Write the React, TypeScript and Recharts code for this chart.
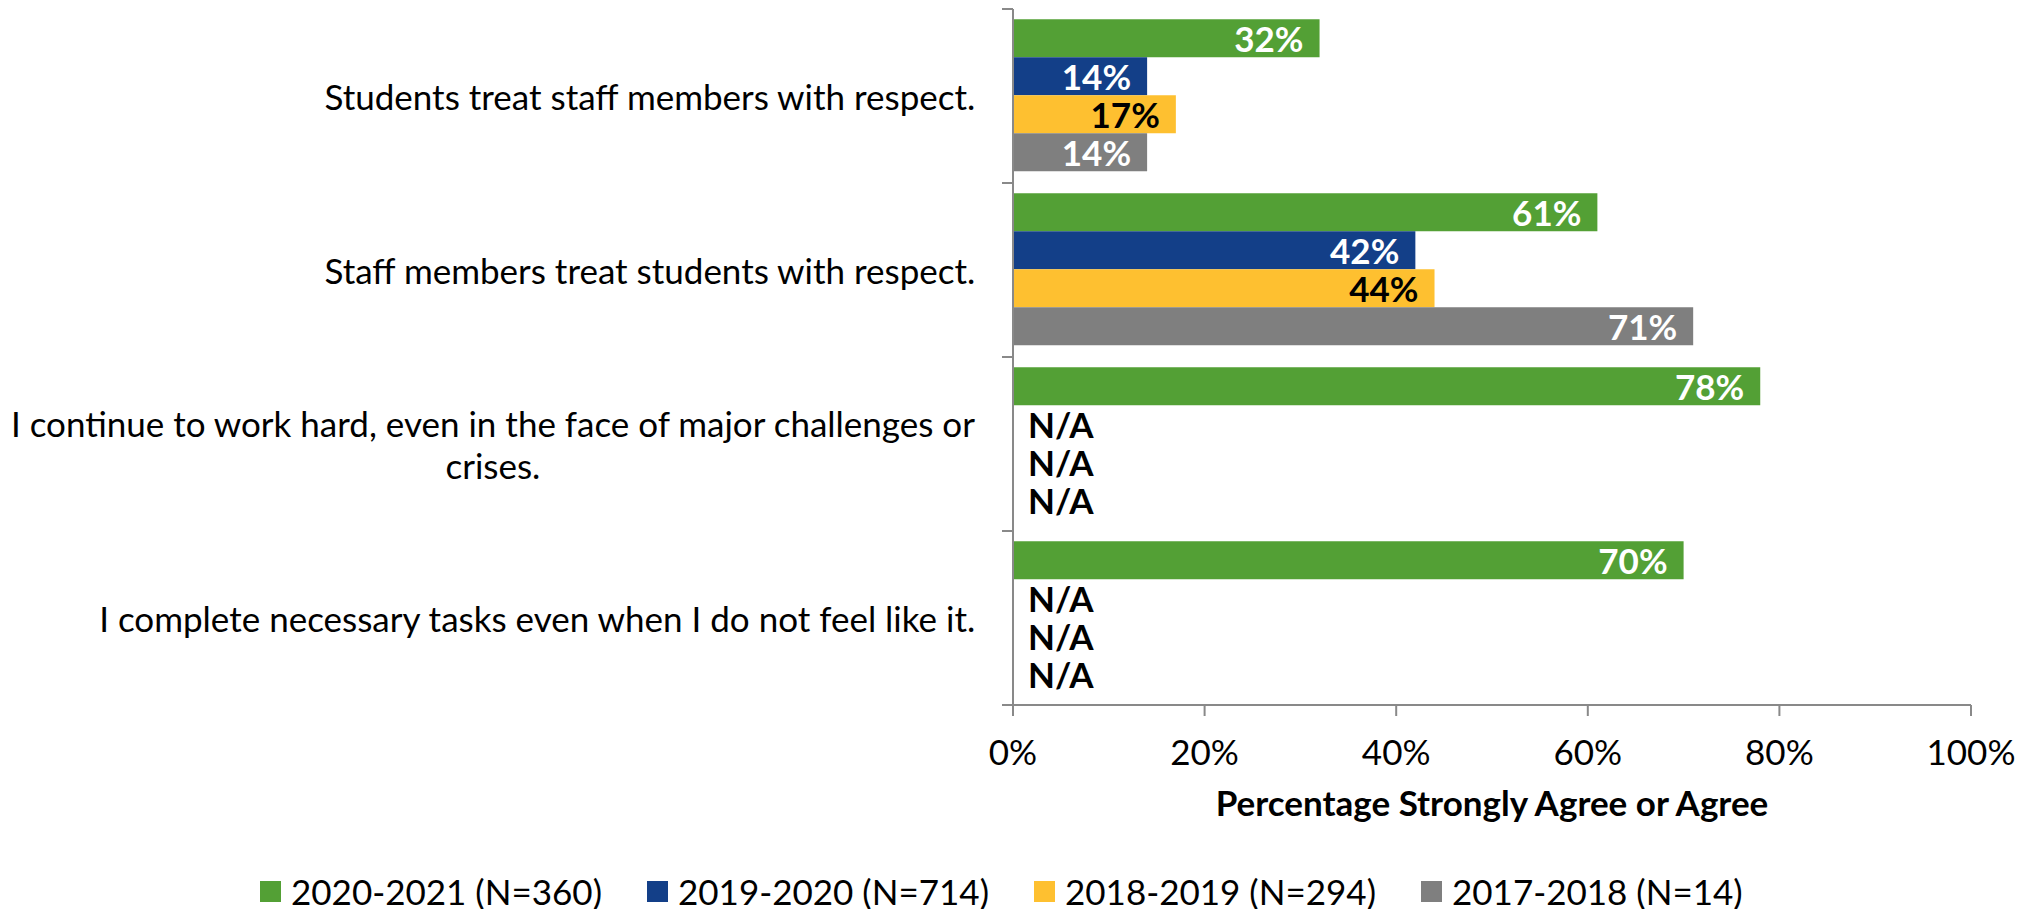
import React from 'react';
import { BarChart, Bar, XAxis, YAxis, Legend, LabelList, Label, Cell } from 'recharts';

// ---- data ----
const categories = [
  'Students treat staff members with respect.',
  'Staff members treat students with respect.',
  'I continue to work hard, even in the face of major challenges or crises.',
  'I complete necessary tasks even when I do not feel like it.',
];
// how each category label wraps on the axis
const categoryLines = [
  ['Students treat staff members with respect.'],
  ['Staff members treat students with respect.'],
  ['I continue to work hard, even in the face of major challenges or', 'crises.'],
  ['I complete necessary tasks even when I do not feel like it.'],
];
const seriesNames = ['2020-2021 (N=360)', '2019-2020 (N=714)', '2018-2019 (N=294)', '2017-2018 (N=14)'];
const values2021: (number | null)[] = [32, 61, 78, 70];
const values2020: (number | null)[] = [14, 42, null, null];
const values2019: (number | null)[] = [17, 44, null, null];
const values2018: (number | null)[] = [14, 71, null, null];
const xTicks = [0, 20, 40, 60, 80, 100];
const axisTitle = 'Percentage Strongly Agree or Agree';
const missingLabel = 'N/A';

// ---- styling ----
const FONT = 'Lato, Carlito, "Open Sans", sans-serif';
const FONT_SIZE = 35;
const LINE_H = 42;
const AXIS_COLOR = '#898989';
const seriesColors = ['#53A035', '#133F88', '#FEC030', '#7F7F7F'];
const labelColors = ['#FFFFFF', '#FFFFFF', '#000000', '#FFFFFF'];

const CHART_W = 2022;
const CHART_H = 901;
const MARGIN = { top: 1, right: 59, bottom: 0, left: 0 };
const Y_AXIS_W = 1005;
const X_AXIS_H = 144;
const LEGEND_H = 60;
const PLOT_LEFT = MARGIN.left + Y_AXIS_W;
const PLOT_H = CHART_H - MARGIN.top - MARGIN.bottom - X_AXIS_H - LEGEND_H;
const BAND = PLOT_H / categories.length;
const TICK_LEN = 11;

const seriesValues = [values2021, values2020, values2019, values2018];
const seriesKeys = ['s2021', 's2020', 's2019', 's2018'];

const table = categories.map((category, i) => {
  const row: Record<string, string | number | null> = { category };
  seriesKeys.forEach((k, s) => {
    const v = seriesValues[s][i];
    row[k] = v;
    row[`${k}Label`] = v == null ? missingLabel : `${v}%`;
  });
  return row;
});

let measureCtx: CanvasRenderingContext2D | null = null;
function textWidth(s: string): number {
  if (!measureCtx) measureCtx = document.createElement('canvas').getContext('2d');
  if (!measureCtx) return s.length * FONT_SIZE * 0.45;
  measureCtx.font = `${FONT_SIZE}px ${FONT}`;
  return measureCtx.measureText(s).width;
}

// Category label (centred block, right-aligned to the axis) plus boundary tick marks
const CategoryTick = (props: any) => {
  const { y, payload, index } = props;
  const idx = categories.indexOf(payload.value);
  const lines = categoryLines[idx] || [String(payload.value)];
  const right = PLOT_LEFT - 37;
  const maxW = Math.max(...lines.map(textWidth));
  const cx = right - maxW / 2;
  const cy = Number(y);
  return (
    <g>
      <line x1={PLOT_LEFT - TICK_LEN} x2={PLOT_LEFT} y1={cy - BAND / 2} y2={cy - BAND / 2} stroke={AXIS_COLOR} strokeWidth={2} />
      {index === categories.length - 1 && (
        <line x1={PLOT_LEFT - TICK_LEN} x2={PLOT_LEFT} y1={cy + BAND / 2} y2={cy + BAND / 2} stroke={AXIS_COLOR} strokeWidth={2} />
      )}
      {lines.map((ln, li) => (
        <text
          key={li}
          x={cx}
          y={cy + (li - (lines.length - 1) / 2) * LINE_H}
          textAnchor="middle"
          dominantBaseline="central"
          fontFamily={FONT}
          fontSize={FONT_SIZE}
          fill="#000"
        >
          {ln}
        </text>
      ))}
    </g>
  );
};

const makeValueLabel = (color: string) => (props: any) => {
  const vb = props.viewBox || {};
  const x = Number(props.x ?? vb.x);
  const y = Number(props.y ?? vb.y);
  const w = Number(props.width ?? vb.width ?? 0);
  const h = Number(props.height ?? vb.height);
  const value = props.value;
  if (value == null) return null;
  if (value === missingLabel) {
    return (
      <text x={PLOT_LEFT + 15} y={y + h / 2} textAnchor="start" dominantBaseline="central" fontFamily={FONT} fontSize={FONT_SIZE} fontWeight="bold" fill="#000">
        {missingLabel}
      </text>
    );
  }
  return (
    <text x={x + w - 16} y={y + h / 2} textAnchor="end" dominantBaseline="central" fontFamily={FONT} fontSize={FONT_SIZE} fontWeight="bold" fill={color}>
      {value}
    </text>
  );
};

const LegendContent = () => (
  <div style={{ height: LEGEND_H, width: CHART_W, boxSizing: 'border-box', paddingLeft: 252, paddingTop: 20, display: 'flex', fontFamily: FONT }}>
    {seriesNames.map((name, i) => (
      <div key={name} style={{ width: 387, height: 44, display: 'flex', alignItems: 'center' }}>
        <div style={{ width: 21, height: 21, background: seriesColors[i], marginRight: 10, flex: 'none' }} />
        <span style={{ fontSize: FONT_SIZE, lineHeight: '44px', color: '#000', whiteSpace: 'nowrap' }}>{name}</span>
      </div>
    ))}
  </div>
);

export default function App() {
  return (
    <div style={{ width: CHART_W, height: CHART_H, background: '#fff' }}>
      <BarChart
        width={CHART_W}
        height={CHART_H}
        data={table}
        layout="vertical"
        margin={MARGIN}
        barCategoryGap="5.9%"
        barGap={0}
      >
        <XAxis
          type="number"
          domain={[0, 100]}
          ticks={xTicks}
          tickFormatter={(v: number) => `${v}%`}
          height={X_AXIS_H}
          axisLine={{ stroke: AXIS_COLOR, strokeWidth: 2 }}
          tickLine={{ stroke: AXIS_COLOR, strokeWidth: 2 }}
          tickSize={TICK_LEN}
          tickMargin={24}
          tick={{ fill: '#000', fontSize: FONT_SIZE, fontFamily: FONT }}
          interval={0}
        >
          <Label
            value={axisTitle}
            position="insideTop"
            offset={86}
            style={{ fontFamily: FONT, fontSize: FONT_SIZE, fontWeight: 'bold', fill: '#000' }}
          />
        </XAxis>
        <YAxis
          type="category"
          dataKey="category"
          width={Y_AXIS_W}
          axisLine={{ stroke: AXIS_COLOR, strokeWidth: 2 }}
          tickLine={false}
          tick={<CategoryTick />}
          interval={0}
        />
        <Legend verticalAlign="bottom" height={LEGEND_H} wrapperStyle={{ left: 0, bottom: 0, width: CHART_W }} content={<LegendContent />} />
        {seriesKeys.map((k, s) => (
          <Bar
            key={k}
            dataKey={(row: any) => (row[k] == null ? 0 : row[k])}
            name={seriesNames[s]}
            fill={seriesColors[s]}
            minPointSize={0.5}
            isAnimationActive={false}
          >
            {table.map((row, i) => (
              <Cell key={i} fill={row[k] == null ? 'transparent' : seriesColors[s]} />
            ))}
            <LabelList dataKey={`${k}Label`} content={makeValueLabel(labelColors[s])} />
          </Bar>
        ))}
      </BarChart>
    </div>
  );
}
